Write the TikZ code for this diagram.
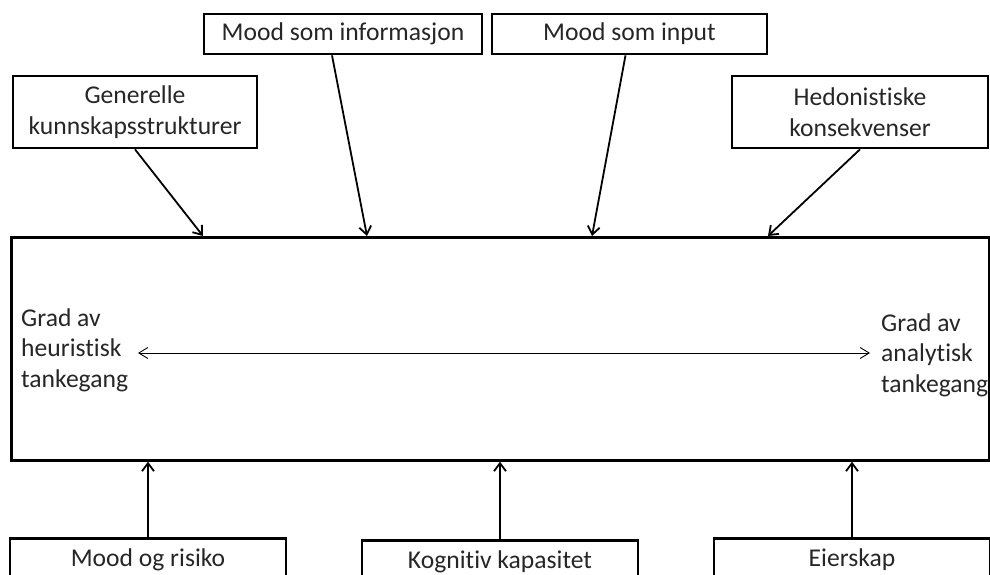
\documentclass[tikz,border=0pt]{standalone}
\usepackage{fontspec}
\setmainfont{Carlito}[Ligatures=NoCommon]
\usetikzlibrary{arrows.meta,calc}
\begin{document}
\begin{tikzpicture}[x=1pt,y=-1pt,
  txt/.style={font=\fontsize{25.6}{30.5}\selectfont, text=black!85},
  topbox/.style={txt, draw=black, line width=2.7pt, align=center, inner sep=0pt},
  botbox/.style={txt, draw=black, line width=2.7pt, anchor=north, minimum width=276pt,
                 inner xsep=0pt, inner ysep=6pt, text height=22pt, text depth=40pt},
  inarrow/.style={line width=1.8pt, -{Straight Barb[length=8pt,width=12pt]}},
  scalearrow/.style={line width=0.9pt, {Straight Barb[length=9pt,width=11pt]}-{Straight Barb[length=9pt,width=11pt]}}
]
\useasboundingbox (0,0) rectangle (990,575);
\clip (0,0) rectangle (990,575);

% main box
\node[draw=black, line width=2.7pt, minimum width=978pt, minimum height=223pt, inner sep=0pt,
      anchor=north west] (main) at (10,236) {};

% top boxes
\node[topbox, minimum width=278pt, minimum height=40pt] (info) at (343,34) {Mood som informasjon};
\node[topbox, minimum width=275pt, minimum height=40pt] (input) at (629.5,34) {Mood som input};
\node[topbox, minimum width=244pt, minimum height=72pt] (gen) at (135,112) {Generelle\\kunnskapsstrukturer};
\node[topbox, minimum width=256pt, minimum height=72pt] (hed) at (860,112) {Hedonistiske\\konsekvenser};

% bottom boxes
\node[botbox] (mood) at (148,537) {Mood og risiko};
\node[botbox] (kog) at (500,539) {Kognitiv kapasitet};
\node[botbox] (eier) at (852,537) {Eierskap};

% inner texts
\node[txt, align=left, inner sep=0pt, anchor=west] (heur) at (21,350) {Grad av\\heuristisk\\tankegang};
\node[txt, align=left, inner sep=0pt, anchor=west] (anal) at (881,355) {Grad av\\analytisk\\tankegang};

% end points on main box
\coordinate (t1) at ($(main.north west)+(193,0)$);
\coordinate (t2) at ($(main.north west)+(357,0)$);
\coordinate (t3) at ($(main.north west)+(582,0)$);
\coordinate (t4) at ($(main.north west)+(758,0)$);

\draw[inarrow] (gen.south) -- (t1);
\draw[inarrow] ($(info.south)+(-11,0)$) -- (t2);
\draw[inarrow] ($(input.south)+(-4,0)$) -- (t3);
\draw[inarrow] (hed.south) -- (t4);

\draw[inarrow] (mood.north) -- (mood.north |- main.south);
\draw[inarrow] (kog.north) -- (kog.north |- main.south);
\draw[inarrow] (eier.north) -- (eier.north |- main.south);

% scale arrow
\coordinate (sl) at (138,353);
\coordinate (sr) at (870,353);
\draw[scalearrow] (sl) -- (sr);
\end{tikzpicture}
\end{document}
